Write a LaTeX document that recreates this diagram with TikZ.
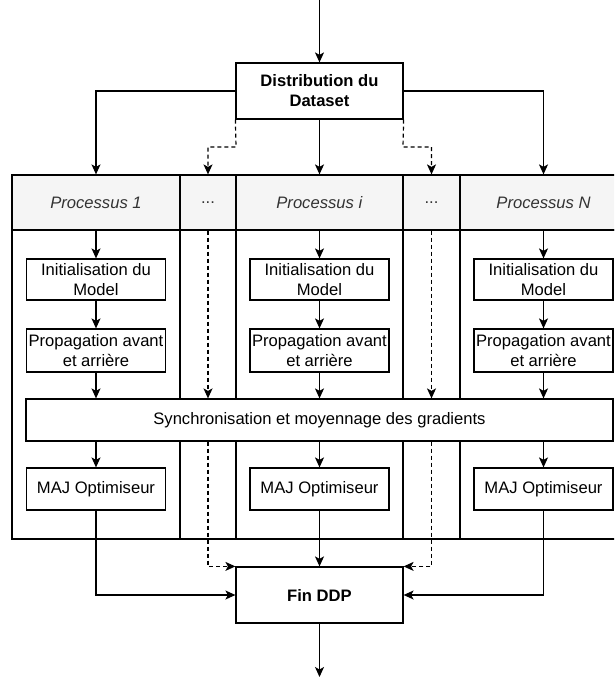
\documentclass[tikz,border=0pt]{standalone}
\usepackage{fontspec}
\setmainfont{Liberation Sans}
\usetikzlibrary{arrows.meta}
\definecolor{hdrfill}{HTML}{F5F5F5}
\definecolor{hdrtext}{HTML}{333333}
\begin{document}
\begin{tikzpicture}[x=1pt,y=-1pt,
  every node/.style={font=\fontsize{16.6}{20}\selectfont},
  box/.style={draw, line width=1.2pt, fill=white, align=center, inner sep=0pt},
  arr/.style={-{Stealth[length=10pt,width=9pt,inset=2.5pt]}, line width=1.2pt},
  dsh/.style={arr, dash pattern=on 4pt off 3pt},
  cell/.style={draw, line width=1.2pt},
  hdr/.style={draw, line width=1.2pt, fill=hdrfill, text=hdrtext, minimum height=55pt, inner sep=0pt}]
\useasboundingbox (0,0) rectangle (614,677);
\clip (0,0) rectangle (614,677);

% table body
\draw[cell] (12,230) rectangle (180,539);
\draw[cell] (180,230) rectangle (236,539);
\draw[cell] (236,230) rectangle (403,539);
\draw[cell] (403,230) rectangle (460,539);
\draw[cell] (460,230) rectangle (627,539);

% headers
\node[hdr, minimum width=168pt] (hdr1) at (96,202.5) {\textit{Processus 1}};
\node[hdr, minimum width=56pt] (hdr2) at (208,202.5) {.\kern0pt.\kern0pt.};
\node[hdr, minimum width=167pt] (hdr3) at (319.5,202.5) {\textit{Processus i}};
\node[hdr, minimum width=57pt] (hdr4) at (431.5,202.5) {.\kern0pt.\kern0pt.};
\node[hdr, minimum width=167pt] (hdr5) at (543.5,202.5) {\textit{Processus N}};

% top box
\node[box, minimum width=167pt, minimum height=56pt] (dist) at (319.5,91) {\textbf{Distribution du}\\\textbf{Dataset}};
\coordinate (top) at (319.5,0);
\draw[arr] (top) -- (dist.north);
\draw[arr] (dist.west) -| (hdr1.north);
\draw[arr] (dist.east) -| (hdr5.north);
\draw[arr] (dist.south) -- (hdr3.north);
\coordinate (dl) at (236,147);
\coordinate (dr) at (403,147);
\draw[dsh] (dist.south west) -- (dl) -| (hdr2.north);
\draw[dsh] (dist.south east) -- (dr) -| (hdr4.north);

% sync box
\node[box, minimum width=587pt, minimum height=42pt] (sync) at (319.5,420) {Synchronisation et moyennage des gradients};

% fin box
\node[box, minimum width=167pt, minimum height=56pt] (fin) at (319.5,595) {\textbf{Fin DDP}};
\coordinate (end) at (319.5,677);
\draw[arr] (fin.south) -- (end);

% process columns
\foreach \i/\x in {1/96,3/319.5,5/543.5}{
  \node[box, minimum width=139pt, minimum height=41pt] (init\i) at (\x,279.5) {Initialisation du\\Model};
  \node[box, minimum width=139pt, minimum height=43pt] (prop\i) at (\x,350.5) {Propagation avant\\et arrière};
  \node[box, minimum width=139pt, minimum height=42pt] (maj\i) at (\x,489) {MAJ Optimiseur};
  \draw[arr] (hdr\i.south) -- (init\i.north);
  \draw[arr] (init\i.south) -- (prop\i.north);
  \draw[arr] (prop\i.south) -- (prop\i.south |- sync.north);
  \draw[arr] (sync.south -| maj\i.north) -- (maj\i.north);
}
\draw[arr] (maj1.south) |- (fin.west);
\draw[arr] (maj5.south) |- (fin.east);
\draw[arr] (maj3.south) -- (fin.north);

% dashed columns
\draw[dsh] (hdr2.south) -- (hdr2.south |- sync.north);
\draw[dsh] (hdr4.south) -- (hdr4.south |- sync.north);
\draw[dsh] (sync.south -| hdr2.south) |- (fin.north west);
\draw[dsh] (sync.south -| hdr4.south) |- (fin.north east);
\end{tikzpicture}
\end{document}
